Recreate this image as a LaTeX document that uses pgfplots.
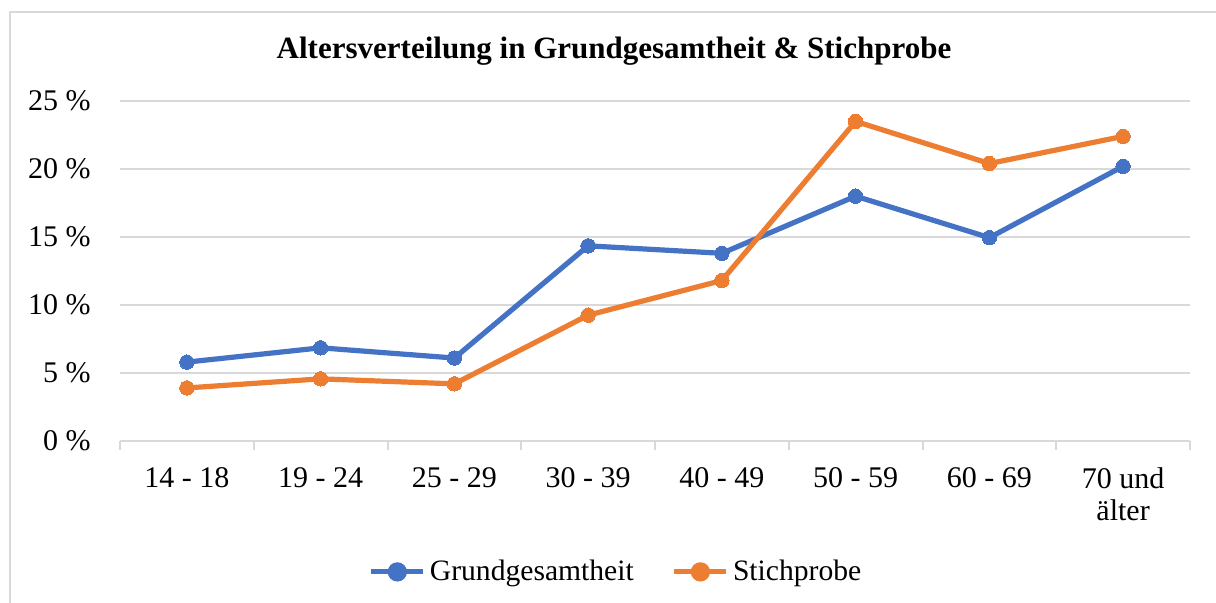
\documentclass[border=0pt]{standalone}
\usepackage{pgfplots}
\pgfplotsset{compat=1.18}
\usepackage{fontspec}
\setmainfont{Liberation Serif}
\definecolor{cblue}{HTML}{4472C4}
\definecolor{corange}{HTML}{ED7D31}
\definecolor{gridgray}{HTML}{D9D9D9}
\definecolor{txt}{HTML}{000000}
\begin{document}
\begin{tikzpicture}
\useasboundingbox (0,0) rectangle (608pt,301.5pt);
\fill[white] (0,0) rectangle (608pt,301.5pt);
\draw[gridgray, line width=1pt] (5pt,0) -- (5pt,295.5pt) -- (608pt,295.5pt);
\node[font=\fontsize{15.5pt}{17pt}\selectfont\bfseries, text=txt] at (307pt,276pt) {Altersverteilung in Grundgesamtheit \& Stichprobe};
\begin{axis}[
  at={(60pt,81pt)}, anchor=south west,
  scale only axis, width=535pt, height=170pt,
  xmin=-0.5, xmax=7.5, ymin=0, ymax=25,
  axis x line*=bottom, axis y line*=left,
  y axis line style={draw=none},
  x axis line style={draw=gridgray, line width=1pt, -},
  xtick={0,...,7},
  xticklabels={14 - 18,19 - 24,25 - 29,30 - 39,40 - 49,50 - 59,60 - 69,{70 und\\älter}},
  minor xtick={-0.5,0.5,...,7.5},
  tick align=outside,
  major tick length=0pt,
  minor tick length=4.5pt,
  minor x tick style={draw=gridgray, line width=1pt},
  major tick style={draw=none},
  ytick={0,5,...,25},
  yticklabels={0 \%,5 \%,10 \%,15 \%,20 \%,25 \%},
  ymajorgrids,
  grid style={draw=gridgray, line width=0.9pt},
  tick label style={font=\fontsize{15pt}{16pt}\selectfont, text=txt},
  yticklabel style={anchor=east, inner sep=0pt, xshift=-14.5pt},
  xticklabel style={anchor=north, inner sep=0pt, align=center, yshift=-13pt},
  clip=false,
  legend columns=2,
  legend style={at={(0.4645,-0.385)}, anchor=center, draw=none, fill=none,
    font=\fontsize{14.8pt}{16pt}\selectfont,
    /tikz/every even column/.append style={column sep=17pt}},
  legend image code/.code={
    \draw[#1, mark=none] (0pt,0pt) -- (26pt,0pt);
    \fill[#1] (13pt,0pt) circle (3.5pt);
  },
]
\addplot[cblue, line width=2.6pt, mark=*, mark size=3.6pt, mark options={solid, line width=0pt}]
  coordinates {(0,5.8) (1,6.85) (2,6.1) (3,14.35) (4,13.8) (5,18.0) (6,14.95) (7,20.2)};
\addlegendentry{Grundgesamtheit}
\addplot[corange, line width=2.6pt, mark=*, mark size=3.6pt, mark options={solid, line width=0pt}]
  coordinates {(0,3.9) (1,4.57) (2,4.2) (3,9.25) (4,11.8) (5,23.5) (6,20.4) (7,22.4)};
\addlegendentry{Stichprobe}
\end{axis}
\end{tikzpicture}
\end{document}
